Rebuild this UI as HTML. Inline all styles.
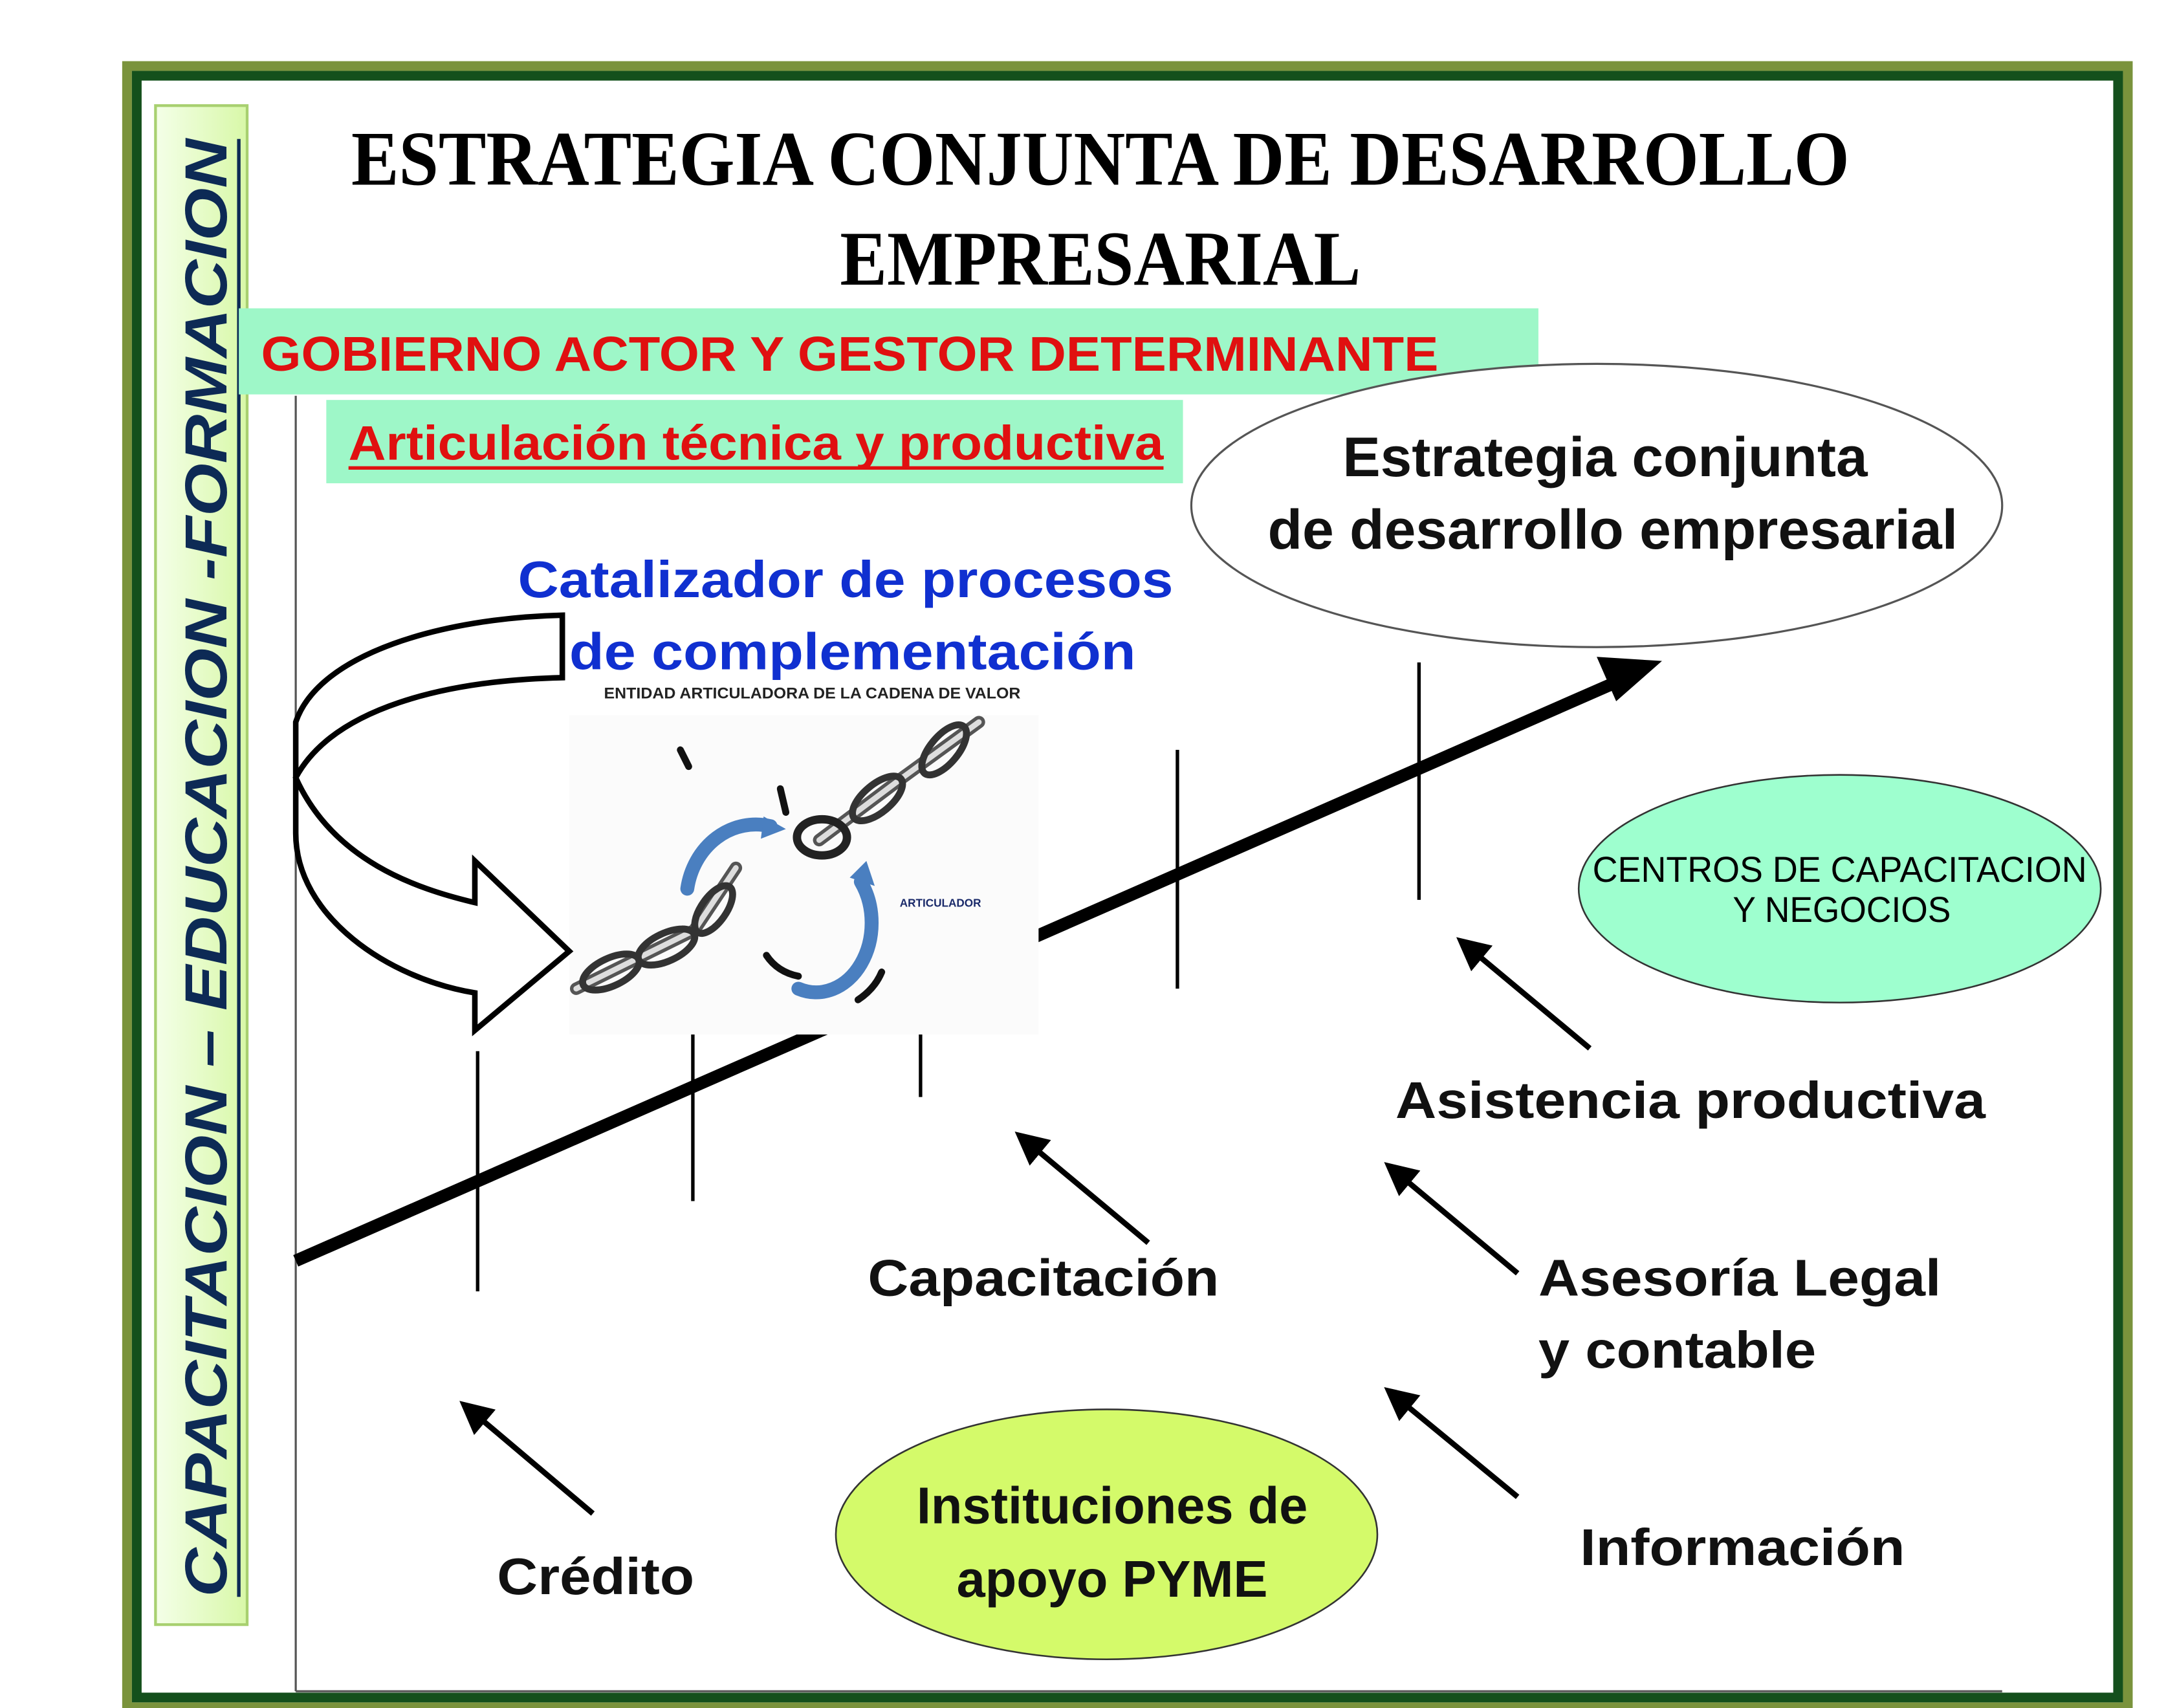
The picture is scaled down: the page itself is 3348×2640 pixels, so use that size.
<!DOCTYPE html>
<html><head><meta charset="utf-8"><style>
html,body{margin:0;padding:0;background:#fff;}
svg{display:block;}
.s{font-family:"Liberation Sans",sans-serif;font-weight:bold;}
</style></head><body>
<svg width="3348" height="2640" viewBox="0 0 1560 1230" xmlns="http://www.w3.org/2000/svg">
<defs>
<linearGradient id="lg" x1="0" x2="1" y1="0" y2="0"><stop offset="0" stop-color="#f4ffe8"/><stop offset="1" stop-color="#d8f8a8"/></linearGradient>
<marker id="ah" markerWidth="6" markerHeight="6" refX="4" refY="3" orient="auto" markerUnits="strokeWidth"><path d="M0,0 L6,3 L0,6 z" fill="#000"/></marker>
</defs>
<rect x="0" y="0" width="1560" height="1230" fill="#fff"/>
<rect x="91.5" y="47.5" width="1441" height="1182" fill="none" stroke="#7a933c" stroke-width="7"/>
<rect x="98.5" y="54.5" width="1427" height="1168" fill="none" stroke="#14501c" stroke-width="7"/>
<rect x="112" y="76" width="66" height="1094" fill="url(#lg)" stroke="#a8d070" stroke-width="2"/>
<text transform="translate(163,1150) rotate(-90)" font-family="Liberation Sans,sans-serif" font-weight="bold" font-style="italic" font-size="43" fill="#0d2a55" textLength="1050" lengthAdjust="spacingAndGlyphs">CAPACITACION – EDUCACION -FORMACION</text>
<line x1="172" y1="100" x2="172" y2="1150" stroke="#0d2a55" stroke-width="2.5"/>
<text x="253" y="133" font-family="Liberation Serif,serif" font-weight="bold" font-size="56" textLength="1079" lengthAdjust="spacingAndGlyphs">ESTRATEGIA CONJUNTA DE DESARROLLO</text>
<text x="605" y="205" font-family="Liberation Serif,serif" font-weight="bold" font-size="56" textLength="375" lengthAdjust="spacingAndGlyphs">EMPRESARIAL</text>
<line x1="213" y1="285" x2="213" y2="1218" stroke="#555" stroke-width="1.5"/>
<line x1="213" y1="1218" x2="1442" y2="1218" stroke="#555" stroke-width="1.5"/>
<rect x="172" y="222" width="936" height="62" fill="#9ef7c8"/>
<text x="188" y="267" class="s" font-size="35" fill="#e01010" textLength="848" lengthAdjust="spacingAndGlyphs">GOBIERNO ACTOR Y GESTOR DETERMINANTE</text>
<rect x="235" y="288" width="617" height="60" fill="#9ef7c8"/>
<text x="251" y="331" class="s" font-size="35" fill="#e01010" textLength="587" lengthAdjust="spacingAndGlyphs">Articulación técnica y productiva</text>
<line x1="251" y1="337" x2="838" y2="337" stroke="#e01010" stroke-width="2.5"/>
<ellipse cx="1150" cy="364" rx="292" ry="102" fill="#fff" stroke="#555" stroke-width="1.5"/>
<text x="967" y="343" class="s" font-size="40" fill="#111" textLength="378" lengthAdjust="spacingAndGlyphs">Estrategia conjunta</text>
<text x="913" y="395" class="s" font-size="40" fill="#111" textLength="497" lengthAdjust="spacingAndGlyphs">de desarrollo empresarial</text>
<text x="373" y="430" class="s" font-size="37" fill="#1030d0" textLength="472" lengthAdjust="spacingAndGlyphs">Catalizador de procesos</text>
<text x="410" y="482" class="s" font-size="37" fill="#1030d0" textLength="408" lengthAdjust="spacingAndGlyphs">de complementación</text>
<text x="435" y="503" class="s" font-size="11" fill="#222" textLength="300" lengthAdjust="spacingAndGlyphs">ENTIDAD ARTICULADORA DE LA CADENA DE VALOR</text>
<line x1="213" y1="908" x2="1160" y2="493" stroke="#000" stroke-width="9"/>
<path d="M1197,476 L1150,473 L1164,505 z" fill="#000"/>
<g stroke="#000" stroke-width="2.5">
<line x1="344" y1="757" x2="344" y2="930"/>
<line x1="499" y1="745" x2="499" y2="865"/>
<line x1="663" y1="745" x2="663" y2="790"/>
<line x1="848" y1="540" x2="848" y2="712"/>
<line x1="1022" y1="477" x2="1022" y2="648"/>
</g>
<rect x="410" y="515" width="338" height="230" fill="#fbfbfb"/>
<g fill="none" stroke-linecap="round">
<path d="M415,712 L500,670 L530,625" stroke="#555" stroke-width="9"/>
<path d="M415,712 L500,670 L530,625" stroke="#ddd" stroke-width="4"/>
<ellipse cx="440" cy="700" rx="22" ry="10" stroke="#333" stroke-width="5" transform="rotate(-25 440 700)"/>
<ellipse cx="480" cy="682" rx="22" ry="10" stroke="#333" stroke-width="5" transform="rotate(-25 480 682)"/>
<ellipse cx="514" cy="655" rx="20" ry="9" stroke="#333" stroke-width="5" transform="rotate(-55 514 655)"/>
<path d="M590,605 L650,560 L705,520" stroke="#555" stroke-width="9"/>
<path d="M590,605 L650,560 L705,520" stroke="#ddd" stroke-width="4"/>
<ellipse cx="592" cy="603" rx="18" ry="13" stroke="#222" stroke-width="6"/>
<ellipse cx="632" cy="575" rx="22" ry="10" stroke="#333" stroke-width="5" transform="rotate(-40 632 575)"/>
<ellipse cx="680" cy="540" rx="22" ry="10" stroke="#333" stroke-width="5" transform="rotate(-50 680 540)"/>
<path d="M490,540 L496,552" stroke="#111" stroke-width="5"/>
<path d="M562,568 L566,585" stroke="#111" stroke-width="5"/>
<path d="M552,688 Q560,700 575,703" stroke="#111" stroke-width="5"/>
<path d="M618,720 Q630,712 635,700" stroke="#111" stroke-width="5"/>
<path d="M495,640 A50,55 0 0 1 555,595" stroke="#4a7fc0" stroke-width="10"/>
<path d="M575,712 A40,50 0 0 0 620,635" stroke="#4a7fc0" stroke-width="10"/>
</g>
<path d="M550,588 L566,597 L548,604 z" fill="#4a7fc0"/>
<path d="M612,632 L624,620 L630,638 z" fill="#4a7fc0"/>
<text x="648" y="653" class="s" font-size="8" fill="#1a2a6a">ARTICULADOR</text>
<path d="M405,443 L405,488 C320,490 240,510 213,560 C240,620 300,640 342,650 L342,620 L410,685 L342,742 L342,715 C280,705 213,660 213,600 L213,520 C230,470 320,445 405,443 z" fill="#fff" stroke="#000" stroke-width="4" stroke-linejoin="miter"/>
<g stroke="#000" stroke-width="4" marker-end="url(#ah)">
<line x1="1145" y1="755" x2="1055" y2="680"/>
<line x1="827" y1="895" x2="737" y2="820"/>
<line x1="1093" y1="917" x2="1003" y2="842"/>
<line x1="1093" y1="1078" x2="1003" y2="1004"/>
<line x1="427" y1="1090" x2="337" y2="1014"/>
</g>
<g class="s" font-size="37" fill="#111">
<text x="1005" y="805" textLength="425" lengthAdjust="spacingAndGlyphs">Asistencia productiva</text>
<text x="625" y="933" textLength="253" lengthAdjust="spacingAndGlyphs">Capacitación</text>
<text x="1108" y="933" textLength="290" lengthAdjust="spacingAndGlyphs">Asesoría Legal</text>
<text x="1108" y="985" textLength="200" lengthAdjust="spacingAndGlyphs">y contable</text>
<text x="1138" y="1127" textLength="234" lengthAdjust="spacingAndGlyphs">Información</text>
<text x="358" y="1148" textLength="142" lengthAdjust="spacingAndGlyphs">Crédito</text>
</g>
<ellipse cx="1325" cy="640" rx="188" ry="82" fill="#9effcf" stroke="#333" stroke-width="1.2"/>
<text x="1147" y="635" font-family="Liberation Sans,sans-serif" font-size="26" fill="#000" textLength="356" lengthAdjust="spacingAndGlyphs">CENTROS DE CAPACITACION</text>
<text x="1248" y="664" font-family="Liberation Sans,sans-serif" font-size="26" fill="#000" textLength="157" lengthAdjust="spacingAndGlyphs">Y NEGOCIOS</text>
<ellipse cx="797" cy="1105" rx="195" ry="90" fill="#d4fa6a" stroke="#333" stroke-width="1.2"/>
<text x="801" y="1097" class="s" font-size="37" text-anchor="middle" fill="#111">Instituciones de</text>
<text x="801" y="1150" class="s" font-size="37" text-anchor="middle" fill="#111">apoyo PYME</text>
</svg>
</body></html>
